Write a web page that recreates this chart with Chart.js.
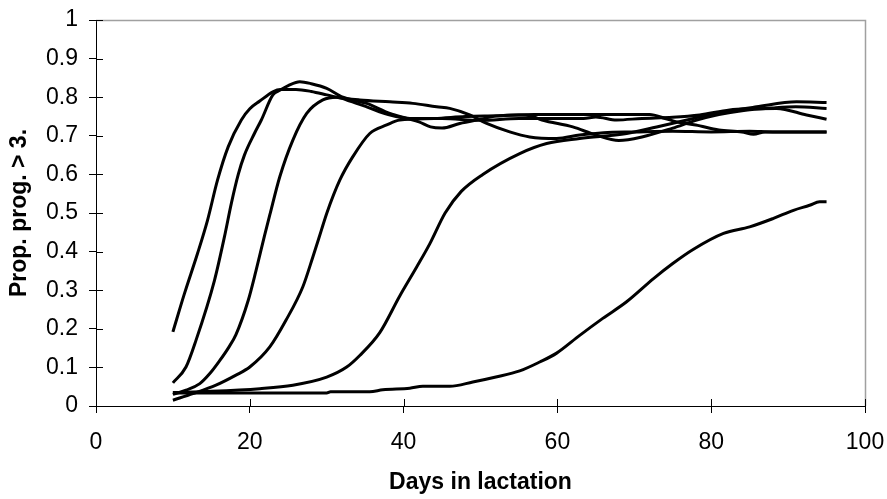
<!DOCTYPE html>
<html>
<head>
<meta charset="utf-8">
<script src="https://cdn.jsdelivr.net/npm/chart.js@4/dist/chart.umd.min.js"></script>
<style>
  html, body { margin: 0; padding: 0; background: #fff; }
  canvas { display: block; }
</style>
</head>
<body>
<canvas id="chart" width="887" height="499"></canvas>
<script>
// days in lactation (x) and proportion (y), one pair of arrays per curve
var daysA = [10, 11.5, 13.2, 14.5, 15.8, 17.2, 18.9, 20, 21.3, 23, 24, 26, 28, 30, 31.3, 34.3, 38.2, 41.2, 44.3, 46, 48.6, 50.8, 53.8, 56.4, 59.9, 62.9, 66, 70, 75, 80, 85, 88, 95];
var propA = [0.192, 0.291, 0.395, 0.481, 0.585, 0.672, 0.741, 0.77, 0.79, 0.814, 0.82, 0.82, 0.815, 0.806, 0.80, 0.793, 0.788, 0.784, 0.775, 0.771, 0.754, 0.732, 0.71, 0.697, 0.693, 0.702, 0.708, 0.71, 0.712, 0.71, 0.712, 0.71, 0.71];

var daysB = [10, 11.7, 13, 15.4, 16.7, 17.6, 18.5, 19.3, 20.6, 21.5, 23, 23.9, 25, 26.5, 28, 30, 32.1, 35.2, 38.2, 40.4, 42, 43.5, 45, 47.3, 50, 52, 55, 56.5, 58, 62, 65, 68, 71, 75, 78, 81, 84, 88, 91, 95];
var propB = [0.06, 0.101, 0.17, 0.325, 0.438, 0.525, 0.60, 0.65, 0.706, 0.741, 0.806, 0.818, 0.83, 0.84, 0.835, 0.823, 0.80, 0.784, 0.758, 0.745, 0.736, 0.723, 0.72, 0.732, 0.743, 0.751, 0.754, 0.752, 0.741, 0.723, 0.702, 0.688, 0.697, 0.72, 0.74, 0.755, 0.765, 0.772, 0.775, 0.771];

var daysC = [10, 11.7, 13.5, 14.8, 16.1, 17.2, 18.2, 19.8, 20.8, 21.9, 22.6, 23.9, 25.6, 27.4, 29.5, 31.3, 33, 35.2, 38, 40.8, 45, 50, 55, 60, 63.4, 65, 67.7, 71, 75, 78.5, 82.4, 85, 88.5, 92.4, 95];
var propC = [0.03, 0.041, 0.058, 0.084, 0.118, 0.15, 0.185, 0.274, 0.35, 0.44, 0.495, 0.594, 0.689, 0.758, 0.793, 0.80, 0.79, 0.775, 0.755, 0.745, 0.745, 0.74, 0.745, 0.745, 0.745, 0.749, 0.741, 0.745, 0.748, 0.754, 0.767, 0.77, 0.771, 0.754, 0.743];

var daysD = [10, 12.6, 15.6, 18.2, 20, 22.6, 24.7, 26.9, 28.2, 29.3, 30, 31.7, 33.4, 35.6, 37.8, 39.5, 44, 48, 52, 57, 62, 68, 72, 74, 75.5, 78, 81, 84, 85.5, 87, 95];
var propD = [0.015, 0.032, 0.054, 0.08, 0.101, 0.153, 0.222, 0.309, 0.386, 0.455, 0.499, 0.585, 0.646, 0.706, 0.728, 0.741, 0.745, 0.75, 0.752, 0.755, 0.755, 0.755, 0.755, 0.745, 0.736, 0.728, 0.715, 0.71, 0.704, 0.71, 0.71];

var daysE = [10, 15, 21.3, 25.6, 30, 32.6, 34.3, 36.9, 39.5, 41.7, 43.4, 45.4, 47.5, 50.3, 55.1, 58.6, 62.9, 69, 72.9, 77.7, 81.6, 85.9, 91.1, 95];
var propE = [0.035, 0.038, 0.045, 0.054, 0.075, 0.101, 0.131, 0.19, 0.285, 0.36, 0.42, 0.50, 0.556, 0.60, 0.654, 0.68, 0.693, 0.706, 0.723, 0.745, 0.762, 0.775, 0.788, 0.786];

var daysF = [10, 20, 30, 30.5, 35.6, 37.3, 40.8, 42.5, 46, 49, 52, 55.1, 57.7, 59.9, 62.9, 65.9, 69, 72.5, 75, 77.7, 81.6, 85, 88.1, 90.7, 92.8, 94.1, 95];
var propF = [0.034, 0.034, 0.034, 0.037, 0.037, 0.042, 0.046, 0.051, 0.051, 0.062, 0.075, 0.091, 0.114, 0.137, 0.183, 0.227, 0.27, 0.33, 0.369, 0.406, 0.447, 0.464, 0.486, 0.507, 0.52, 0.529, 0.529];

var xTitle = 'Days in lactation';
var yTitle = 'Prop. prog. > 3.';

function pts(xs, ys) {
  return xs.map(function(x, i) { return {x: x, y: ys[i]}; });
}

function curve(xs, ys) {
  return {
    data: pts(xs, ys),
    showLine: true,
    borderColor: '#000',
    borderWidth: 3,
    pointRadius: 0,
    cubicInterpolationMode: 'monotone',
    borderJoinStyle: 'round',
    fill: false
  };
}

// grey frame on top/right and tick marks crossing the axes
var frame = {
  id: 'frame',
  afterDraw: function(chart) {
    var ctx = chart.ctx, a = chart.chartArea;
    var xs = chart.scales.x, ys = chart.scales.y;
    ctx.save();
    ctx.strokeStyle = '#a0a0a0';
    ctx.lineWidth = 1.5;
    ctx.beginPath();
    ctx.moveTo(a.left, a.top + 0.5);
    ctx.lineTo(a.right + 0.5, a.top + 0.5);
    ctx.lineTo(a.right + 0.5, a.bottom);
    ctx.stroke();
    ctx.strokeStyle = '#000';
    ctx.lineWidth = 1;
    ctx.beginPath();
    xs.ticks.forEach(function(t) {
      var px = Math.round(xs.getPixelForValue(t.value)) + 0.5;
      ctx.moveTo(px, a.bottom);
      ctx.lineTo(px, a.bottom - 7);
    });
    ys.ticks.forEach(function(t) {
      var py = Math.round(ys.getPixelForValue(t.value)) + 0.5;
      ctx.moveTo(a.left, py);
      ctx.lineTo(a.left + 7, py);
    });
    ctx.stroke();
    ctx.restore();
  }
};

var tickFont = {family: '"Liberation Sans", Arial, sans-serif', size: 23};
var titleFont = {family: '"Liberation Sans", Arial, sans-serif', size: 23, weight: 'bold'};

new Chart(document.getElementById('chart'), {
  type: 'scatter',
  data: {
    datasets: [
      curve(daysA, propA),
      curve(daysB, propB),
      curve(daysC, propC),
      curve(daysD, propD),
      curve(daysE, propE),
      curve(daysF, propF)
    ]
  },
  options: {
    responsive: false,
    animation: false,
    layout: { padding: { left: 0, top: 20, right: 22, bottom: 0 } },
    plugins: {
      legend: { display: false },
      tooltip: { enabled: false }
    },
    scales: {
      x: {
        type: 'linear',
        min: 0,
        max: 100,
        afterFit: function(s) { s.height = 93; s.paddingLeft = 0; s.paddingRight = 0; },
        border: { color: '#000', width: 1 },
        grid: { drawOnChartArea: false, tickLength: 7, color: '#000' },
        ticks: { stepSize: 20, color: '#000', font: tickFont, padding: 16 },
        title: { display: true, text: xTitle, color: '#000', font: titleFont, padding: { top: 0, bottom: 3 } }
      },
      y: {
        type: 'linear',
        min: 0,
        max: 1,
        afterFit: function(s) { s.width = 96; s.paddingTop = 0; s.paddingBottom = 0; },
        border: { color: '#000', width: 1 },
        grid: { drawOnChartArea: false, tickLength: 7, color: '#000' },
        ticks: {
          stepSize: 0.1, color: '#000', font: tickFont, padding: 11,
          callback: function(v) { return String(Math.round(v * 10) / 10); }
        },
        title: { display: true, text: yTitle, color: '#000', font: titleFont, padding: { top: 6, bottom: 0 } }
      }
    }
  },
  plugins: [frame]
});
</script>
</body>
</html>
